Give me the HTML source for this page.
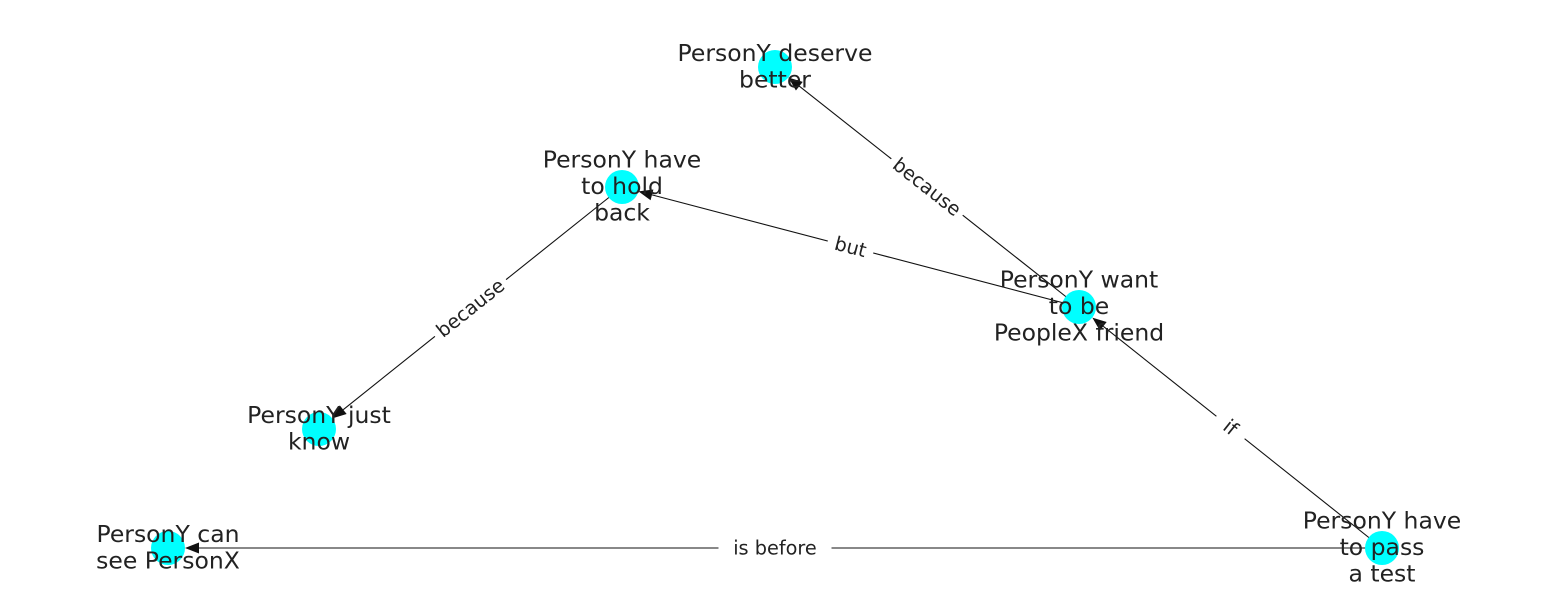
<!DOCTYPE html>
<html><head><meta charset="utf-8"><style>
html,body{margin:0;padding:0;background:#fff;}
svg{display:block;font-family:"DejaVu Sans","Liberation Sans",sans-serif;}
</style></head><body>
<svg id="g" width="1550" height="616" viewBox="0 0 1550 616"></svg>
<script>
const nodeIds = ["A","B","C","D","E","F"];
const nodeX = [775, 622, 1079, 319, 168, 1382];
const nodeY = [67, 187, 307, 429, 548, 548];
const nodeLabels = [["PersonY deserve","better"],["PersonY have","to hold","back"],["PersonY want","to be","PeopleX friend"],["PersonY just","know"],["PersonY can","see PersonX"],["PersonY have","to pass","a test"]];
const edgeFrom = ["C","C","B","F","F"];
const edgeTo = ["A","B","D","C","E"];
const edgeLabels = ["because","but","because","if","is before"];

const NS="http://www.w3.org/2000/svg";
const svg=document.getElementById('g');
const R=17;
function mk(t,a){const e=document.createElementNS(NS,t);for(const k in a)e.setAttribute(k,a[k]);return e;}
function pos(id){const i=nodeIds.indexOf(id);return [nodeX[i],nodeY[i]];}
const edgeLayer=mk('g',{});svg.appendChild(edgeLayer);
const nodeLayer=mk('g',{});svg.appendChild(nodeLayer);
const textLayer=mk('g',{});svg.appendChild(textLayer);
nodeIds.forEach((id,i)=>{
  const c=mk('circle',{cx:nodeX[i],cy:nodeY[i],r:R,fill:'#00ffff'});
  
  
  nodeLayer.appendChild(c);
  const lines=nodeLabels[i];const lh=26.5;
  const t=mk('text',{x:nodeX[i],'text-anchor':'middle','font-size':'23.5',fill:'#222'});
  
  
  lines.forEach((s,j)=>{const ts=mk('tspan',{x:nodeX[i],y:nodeY[i]+7+(j-(lines.length-1)/2)*lh});ts.textContent=s;t.appendChild(ts);});
  textLayer.appendChild(t);
});
edgeFrom.forEach((f,i)=>{
  const [x1,y1]=pos(f),[x2,y2]=pos(edgeTo[i]);
  const dx=x2-x1,dy=y2-y1,L=Math.hypot(dx,dy),ux=dx/L,uy=dy/L;
  const tx=x2-ux*R,ty=y2-uy*R,hl=14,hw=5.5;
  const bx=tx-ux*hl,by=ty-uy*hl;
  const ln=mk('line',{x1:x1,y1:y1,x2:bx,y2:by,stroke:'#111','stroke-width':1.1});
  
  
  edgeLayer.appendChild(ln);
  const ah=mk('polygon',{points:`${tx},${ty} ${bx-uy*hw},${by+ux*hw} ${bx+uy*hw},${by-ux*hw}`,fill:'#111'});
  
  
  edgeLayer.appendChild(ah);
  const mx=(x1+x2)/2,my=(y1+y2)/2;
  let ang=Math.atan2(dy,dx)*180/Math.PI;
  if(ang>90)ang-=180;if(ang<-90)ang+=180;
  const g=mk('g',{transform:`translate(${mx},${my}) rotate(${ang})`});
  
  
  const w=edgeLabels[i].length*11+14;
  g.appendChild(mk('rect',{x:-w/2,y:-12,width:w,height:24,fill:'#fff'}));
  const t=mk('text',{x:0,y:6.5,'text-anchor':'middle','font-size':'19.3',fill:'#222'});
  t.textContent=edgeLabels[i];g.appendChild(t);
  textLayer.insertBefore(g,textLayer.firstChild);
});
</script>
</body></html>
